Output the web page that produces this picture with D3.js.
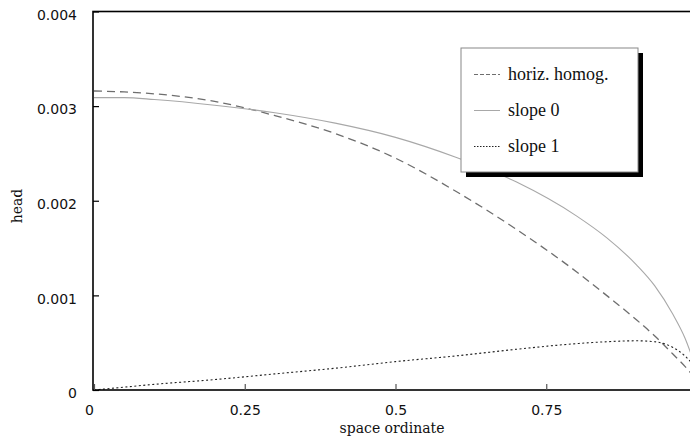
<!DOCTYPE html>
<html>
<head>
<meta charset="utf-8">
<script src="https://cdn.jsdelivr.net/npm/d3@7"></script>
<style>
  html, body { margin: 0; padding: 0; background: #fff; }
  svg { display: block; }
</style>
</head>
<body>
<svg id="chart" width="690" height="440"></svg>
<script>
// Head along the space ordinate for three cases
const xs = [0, 0.05, 0.1, 0.2, 0.3, 0.4, 0.5, 0.6, 0.7, 0.8, 0.85, 0.9, 0.93, 0.96, 0.98, 1.0];
const horizHomog = [0.00316, 0.00315, 0.00313, 0.00305, 0.00290, 0.00271, 0.00245, 0.00210, 0.00170, 0.00125, 0.00100, 0.00074, 0.00057, 0.00038, 0.00025, 0.00010];
const slope0 = [0.00309, 0.00309, 0.00307, 0.00301, 0.00293, 0.00282, 0.00267, 0.00246, 0.00220, 0.00184, 0.00161, 0.00132, 0.00110, 0.00080, 0.00055, 0.00020];
const slope1 = [0, 0.00003, 0.00006, 0.00011, 0.00017, 0.00023, 0.00030, 0.00036, 0.00043, 0.00049, 0.00051, 0.00052, 0.00051, 0.00045, 0.00036, 0.00022];

const xTicks = [0, 0.25, 0.5, 0.75];
const xTickLabels = ["0", "0.25", "0.5", "0.75"];
const yTicks = [0, 0.001, 0.002, 0.003, 0.004];
const yTickLabels = ["0", "0.001", "0.002", "0.003", "0.004"];
const seriesNames = ["horiz. homog.", "slope 0", "slope 1"];

const svg = d3.select("#chart");
const x = d3.scaleLinear().domain([0, 1]).range([94, 697]);
const y = d3.scaleLinear().domain([0, 0.004]).range([390, 11.5]);

const tickFont = "'DejaVu Sans', sans-serif";
const serifFont = "'DejaVu Serif', serif";

// series styles
const styles = [
  { stroke: "#6e6e6e", width: 1.3, dash: "8,5" },
  { stroke: "#a8a8a8", width: 1.1, dash: null },
  { stroke: "#222", width: 1.1, dash: "2,2.5" }
];
const series = [horizHomog, slope0, slope1];

const line = d3.line()
  .x(d => x(d[0]))
  .y(d => y(d[1]))
  .curve(d3.curveMonotoneX);

series.forEach((vals, i) => {
  svg.append("path")
    .datum(xs.map((v, j) => [v, vals[j]]))
    .attr("fill", "none")
    .attr("stroke", styles[i].stroke)
    .attr("stroke-width", styles[i].width)
    .attr("stroke-dasharray", styles[i].dash)
    .attr("d", line);
});

// frame
svg.append("rect")
  .attr("x", x(0) - 1).attr("y", y(0.004))
  .attr("width", x(1) - x(0) + 1).attr("height", y(0) - y(0.004))
  .attr("fill", "none").attr("stroke", "#000").attr("stroke-width", 1.6);

// x axis
const gx = svg.append("g")
  .attr("transform", `translate(0,${y(0)})`)
  .call(d3.axisBottom(x).tickValues(xTicks)
    .tickFormat((d, i) => xTickLabels[i])
    .tickSizeInner(-6).tickSizeOuter(0).tickPadding(15));
gx.select(".domain").remove();
gx.selectAll(".tick line").attr("stroke", "#555").attr("stroke-width", 1.2);
gx.selectAll(".tick text")
  .attr("font-family", tickFont).attr("font-size", 14).attr("fill", "#111")
  .attr("dx", (d, i) => i === 0 ? -5 : 0);

// y axis
const gy = svg.append("g")
  .attr("transform", `translate(${x(0) - 1},0)`)
  .call(d3.axisLeft(y).tickValues(yTicks)
    .tickFormat((d, i) => yTickLabels[i])
    .tickSizeInner(-6).tickSizeOuter(0).tickPadding(16));
gy.select(".domain").remove();
gy.selectAll(".tick line").attr("stroke", "#000").attr("stroke-width", 1.2);
gy.selectAll(".tick text")
  .attr("font-family", tickFont).attr("font-size", 14).attr("fill", "#111")
  .attr("dy", "0.55em");

// axis titles
svg.append("text")
  .attr("x", 392).attr("y", 433)
  .attr("text-anchor", "middle")
  .attr("font-family", serifFont).attr("font-size", 14).attr("fill", "#111")
  .text("space ordinate");

svg.append("text")
  .attr("transform", "translate(22,206) rotate(-90)")
  .attr("text-anchor", "middle")
  .attr("font-family", serifFont).attr("font-size", 14).attr("fill", "#111")
  .text("head");

// legend with drop shadow
const lg = svg.append("g").attr("transform", "translate(461,48)");
lg.append("rect").attr("x", 5).attr("y", 5).attr("width", 177).attr("height", 124).attr("fill", "#000");
lg.append("rect").attr("x", 0).attr("y", 0).attr("width", 177).attr("height", 124)
  .attr("fill", "#fff").attr("stroke", "#888").attr("stroke-width", 1);
seriesNames.forEach((name, i) => {
  const ry = 26.5 + i * 36;
  lg.append("line")
    .attr("x1", 13).attr("x2", 39).attr("y1", ry).attr("y2", ry)
    .attr("stroke", styles[i].stroke).attr("stroke-width", 1)
    .attr("stroke-dasharray", i === 0 ? "4,2" : (i === 2 ? "1.5,1.5" : null));
  lg.append("text")
    .attr("x", 47).attr("y", ry + 5)
    .attr("font-family", "'Liberation Serif', serif").attr("font-size", 18).attr("fill", "#111")
    .text(name);
});
</script>
</body>
</html>
